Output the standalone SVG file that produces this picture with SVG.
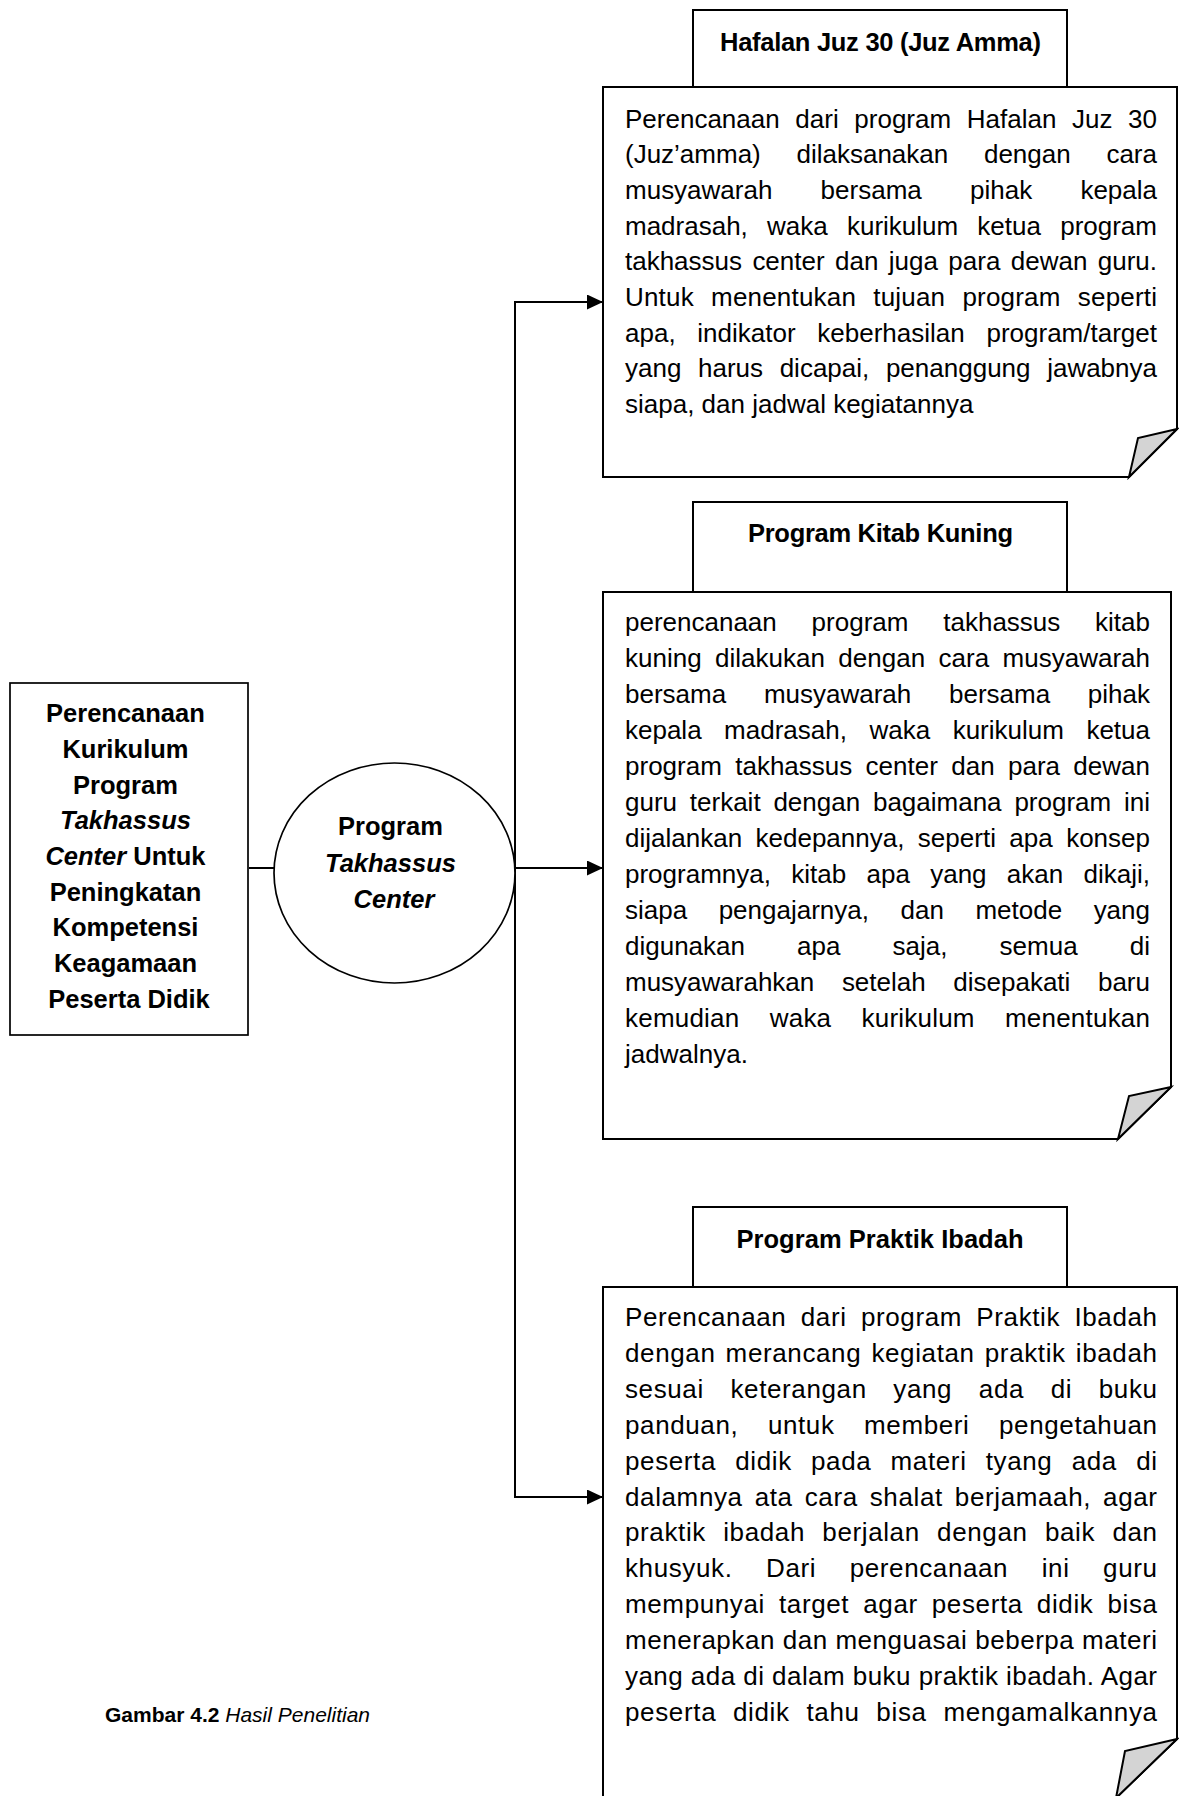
<svg xmlns="http://www.w3.org/2000/svg" width="1179" height="1796" viewBox="0 0 1179 1796">
<style>
text { font-family: "Liberation Sans", Arial, sans-serif; fill: #000; }
.body { font-size: 26px; }
.bold { font-size: 25.5px; font-weight: bold; }
.it { font-style: italic; }
.box { fill: #fff; stroke: #000; stroke-width: 2; }
.thin { fill: #fff; stroke: #000; stroke-width: 1.7; }
.fold { fill: #d4d4d4; stroke: #000; stroke-width: 2; stroke-linejoin: miter; }
.conn { stroke: #000; stroke-width: 2; fill: none; }
.cap { font-size: 21px; }
</style>
<defs>
<marker id="arr" markerUnits="userSpaceOnUse" markerWidth="16" markerHeight="15" refX="16" refY="7.5" orient="auto">
<path d="M0,0 L16,7.5 L0,15 Z" fill="#000"/>
</marker>
</defs>
<rect width="1179" height="1796" fill="#fff"/>

<g id="connectors">
<line class="conn" x1="249" y1="868" x2="274" y2="868"/>
<line class="conn" x1="515" y1="301" x2="515" y2="1498"/>
<line class="conn" x1="514" y1="302" x2="603" y2="302" marker-end="url(#arr)"/>
<line class="conn" x1="514" y1="868" x2="603" y2="868" marker-end="url(#arr)"/>
<line class="conn" x1="514" y1="1497" x2="603" y2="1497" marker-end="url(#arr)"/>
</g>

<g id="node-perencanaan">
<rect class="thin" x="10" y="683" width="238" height="352"/>
<text class="bold" text-anchor="middle">
<tspan x="129" y="722">Perencanaan</tspan>
<tspan x="129" y="758">Kurikulum</tspan>
<tspan x="129" y="793.5">Program</tspan>
<tspan x="129" y="829" class="it">Takhassus</tspan>
<tspan x="129" y="865"><tspan class="it">Center</tspan> Untuk</tspan>
<tspan x="129" y="900.5">Peningkatan</tspan>
<tspan x="129" y="936">Kompetensi</tspan>
<tspan x="129" y="972">Keagamaan</tspan>
<tspan x="129" y="1007.5">Peserta Didik</tspan>
</text>
</g>

<g id="node-program">
<ellipse class="thin" cx="394.5" cy="873" rx="120.5" ry="110"/>
<text class="bold" text-anchor="middle">
<tspan x="394" y="835">Program</tspan>
<tspan x="394" y="872" class="it">Takhassus</tspan>
<tspan x="394" y="908" class="it">Center</tspan>
</text>
</g>

<g id="node-hafalan">
<rect class="box" x="693" y="10" width="374" height="77"/>
<text class="bold" x="720" y="51" textLength="321" lengthAdjust="spacing">Hafalan Juz 30 (Juz Amma)</text>
<path class="box" d="M603,87 H1177 V429 L1129,477 H603 Z"/>
<path class="fold" d="M1177,429 L1138,438 L1129,477 Z"/>
<g>
<text class="body" x="625" y="127.5" textLength="532" lengthAdjust="spacing" word-spacing="8.4">Perencanaan dari program Hafalan Juz 30</text>
<text class="body" x="625" y="163.2" textLength="532" lengthAdjust="spacing" word-spacing="28.5">(Juz’amma) dilaksanakan dengan cara</text>
<text class="body" x="625" y="198.8" textLength="532" lengthAdjust="spacing" word-spacing="41">musyawarah bersama pihak kepala</text>
<text class="body" x="625" y="234.5" textLength="532" lengthAdjust="spacing" word-spacing="12">madrasah, waka kurikulum ketua program</text>
<text class="body" x="625" y="270.2" textLength="532" lengthAdjust="spacing" word-spacing="3.2">takhassus center dan juga para dewan guru.</text>
<text class="body" x="625" y="305.8" textLength="532" lengthAdjust="spacing" word-spacing="9.8">Untuk menentukan tujuan program seperti</text>
<text class="body" x="625" y="341.5" textLength="532" lengthAdjust="spacing" word-spacing="14.5">apa, indikator keberhasilan program/target</text>
<text class="body" x="625" y="377.2" textLength="532" lengthAdjust="spacing" word-spacing="9.4">yang harus dicapai, penanggung jawabnya</text>
<text class="body" x="625" y="412.8">siapa, dan jadwal kegiatannya</text>
</g>
</g>

<g id="node-kitab">
<rect class="box" x="693" y="502" width="374" height="90"/>
<text class="bold" x="748" y="542" textLength="265" lengthAdjust="spacing">Program Kitab Kuning</text>
<path class="box" d="M603,592 H1171 V1087 L1118,1139 H603 Z"/>
<path class="fold" d="M1171,1087 L1129,1096 L1118,1139 Z"/>
<g>
<text class="body" x="625" y="631" textLength="525" lengthAdjust="spacing" word-spacing="27.6">perencanaan program takhassus kitab</text>
<text class="body" x="625" y="667" textLength="525" lengthAdjust="spacing" word-spacing="6.2">kuning dilakukan dengan cara musyawarah</text>
<text class="body" x="625" y="703" textLength="525" lengthAdjust="spacing" word-spacing="30.5">bersama musyawarah bersama pihak</text>
<text class="body" x="625" y="739" textLength="525" lengthAdjust="spacing" word-spacing="15.3">kepala madrasah, waka kurikulum ketua</text>
<text class="body" x="625" y="775" textLength="525" lengthAdjust="spacing" word-spacing="6.1">program takhassus center dan para dewan</text>
<text class="body" x="625" y="811" textLength="525" lengthAdjust="spacing" word-spacing="5.6">guru terkait dengan bagaimana program ini</text>
<text class="body" x="625" y="847" textLength="525" lengthAdjust="spacing" word-spacing="6.2">dijalankan kedepannya, seperti apa konsep</text>
<text class="body" x="625" y="883" textLength="525" lengthAdjust="spacing" word-spacing="13.1">programnya, kitab apa yang akan dikaji,</text>
<text class="body" x="625" y="919" textLength="525" lengthAdjust="spacing" word-spacing="24.3">siapa pengajarnya, dan metode yang</text>
<text class="body" x="625" y="955" textLength="525" lengthAdjust="spacing" word-spacing="44.9">digunakan apa saja, semua di</text>
<text class="body" x="625" y="991" textLength="525" lengthAdjust="spacing" word-spacing="20.4">musyawarahkan setelah disepakati baru</text>
<text class="body" x="625" y="1027" textLength="525" lengthAdjust="spacing" word-spacing="22.8">kemudian waka kurikulum menentukan</text>
<text class="body" x="625" y="1063">jadwalnya.</text>
</g>
</g>

<g id="node-praktik">
<rect class="box" x="693" y="1207" width="374" height="80"/>
<text class="bold" x="736.5" y="1247.5" textLength="287" lengthAdjust="spacing">Program Praktik Ibadah</text>
<path class="box" d="M603,1287 H1177 V1739 L1116,1798 H603 Z"/>
<path class="fold" d="M1177,1739 L1125,1751 L1116,1798 Z"/>
<g>
<text class="body" x="625" y="1326" textLength="532" lengthAdjust="spacing" word-spacing="6.5">Perencanaan dari program Praktik Ibadah</text>
<text class="body" x="625" y="1361.9" textLength="532" lengthAdjust="spacing" word-spacing="2.3">dengan merancang kegiatan praktik ibadah</text>
<text class="body" x="625" y="1397.8" textLength="532" lengthAdjust="spacing" word-spacing="18.8">sesuai keterangan yang ada di buku</text>
<text class="body" x="625" y="1433.7" textLength="532" lengthAdjust="spacing" word-spacing="21.7">panduan, untuk memberi pengetahuan</text>
<text class="body" x="625" y="1469.6" textLength="532" lengthAdjust="spacing" word-spacing="11.4">peserta didik pada materi tyang ada di</text>
<text class="body" x="625" y="1505.5" textLength="532" lengthAdjust="spacing" word-spacing="4.2">dalamnya ata cara shalat berjamaah, agar</text>
<text class="body" x="625" y="1541.4" textLength="532" lengthAdjust="spacing" word-spacing="9.5">praktik ibadah berjalan dengan baik dan</text>
<text class="body" x="625" y="1577.3" textLength="532" lengthAdjust="spacing" word-spacing="25.7">khusyuk. Dari perencanaan ini guru</text>
<text class="body" x="625" y="1613.2" textLength="532" lengthAdjust="spacing" word-spacing="6.2">mempunyai target agar peserta didik bisa</text>
<text class="body" x="625" y="1649.1" textLength="532" lengthAdjust="spacing">menerapkan dan menguasai beberpa materi</text>
<text class="body" x="625" y="1685" textLength="532" lengthAdjust="spacing">yang ada di dalam buku praktik ibadah. Agar</text>
<text class="body" x="625" y="1720.9" textLength="532" lengthAdjust="spacing" word-spacing="8.9">peserta didik tahu bisa mengamalkannya</text>
</g>
</g>

<g id="caption">
<text class="cap" x="105" y="1722"><tspan font-weight="bold">Gambar 4.2</tspan> <tspan class="it">Hasil Penelitian</tspan></text>
</g>
</svg>
